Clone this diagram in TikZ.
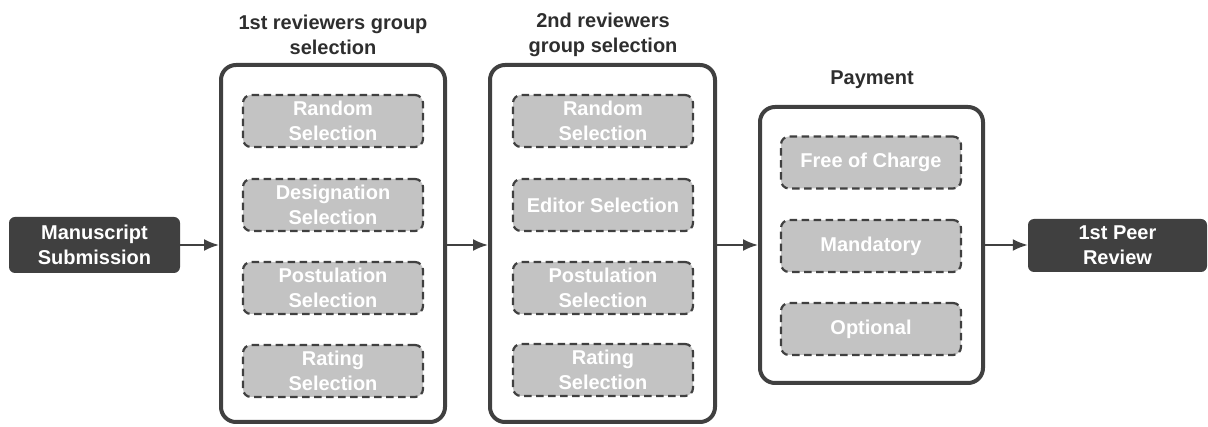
\documentclass[tikz,border=0pt]{standalone}
\usepackage{fontspec}
\setmainfont{Liberation Sans}
\usetikzlibrary{arrows.meta}
\definecolor{darkbox}{HTML}{404040}
\definecolor{lightbox}{HTML}{C3C3C3}
\definecolor{headtext}{HTML}{2E2E2E}

\begin{document}
\begin{tikzpicture}[x=1pt,y=-1pt]
\tikzstyle{every node}=[font=\fontsize{20}{25}\selectfont\bfseries,align=center];
\tikzstyle{endbox}=[fill=darkbox,text=white,rounded corners=6pt,inner sep=0pt];
\tikzstyle{group}=[draw=darkbox,line width=4pt,rounded corners=15pt,inner sep=0pt];
\tikzstyle{choice}=[draw=darkbox,fill=lightbox,text=white,line width=2.2pt,dash pattern=on 7.5pt off 4.5pt,rounded corners=8pt,minimum width=180pt,minimum height=52pt,inner sep=0pt];
\tikzstyle{title}=[text=headtext];
\tikzstyle{link}=[draw=darkbox,line width=2pt,-{Latex[length=15pt,width=12pt]}];
\useasboundingbox (0,0) rectangle (1208,427);

\node[endbox,minimum width=171pt,minimum height=56pt] (ms) at (94.5,245) {Manuscript\\Submission};
\node[endbox,minimum width=179pt,minimum height=53pt] (peer) at (1117.5,245.5) {1st Peer\\Review};

\node[group,minimum width=224pt,minimum height=357pt] (g1) at (333,243.5) {};
\node[group,minimum width=225pt,minimum height=357pt] (g2) at (602.5,243.5) {};
\node[group,minimum width=223pt,minimum height=276pt] (pay) at (871.5,245) {};

\node[title] (t1) at (333,35) {1st reviewers group\\selection};
\node[title] (t2) at (603,35) {2nd reviewers\\group selection};
\node[title] (t3) at (872,80) {Payment};

\node[choice] (g1a) at (333,121) {Random\\Selection};
\node[choice] (g1b) at (333,205) {Designation\\Selection};
\node[choice] (g1c) at (333,288) {Postulation\\Selection};
\node[choice] (g1d) at (333,371) {Rating\\Selection};

\node[choice] (g2a) at (603,121) {Random\\Selection};
\node[choice] (g2b) at (603,205) {Editor Selection};
\node[choice] (g2c) at (603,288) {Postulation\\Selection};
\node[choice] (g2d) at (603,370) {Rating\\Selection};

\node[choice] (pa) at (871,162.5) {Free of Charge};
\node[choice] (pb) at (871,246) {Mandatory};
\node[choice] (pc) at (871,329) {Optional};

\draw[link] (ms.east) -- (ms.east -| g1.west);
\draw[link] (g1.east |- ms.east) -- (ms.east -| g2.west);
\draw[link] (g2.east |- ms.east) -- (ms.east -| pay.west);
\draw[link] (pay.east |- ms.east) -- (peer.west |- ms.east);
\end{tikzpicture}
\end{document}
